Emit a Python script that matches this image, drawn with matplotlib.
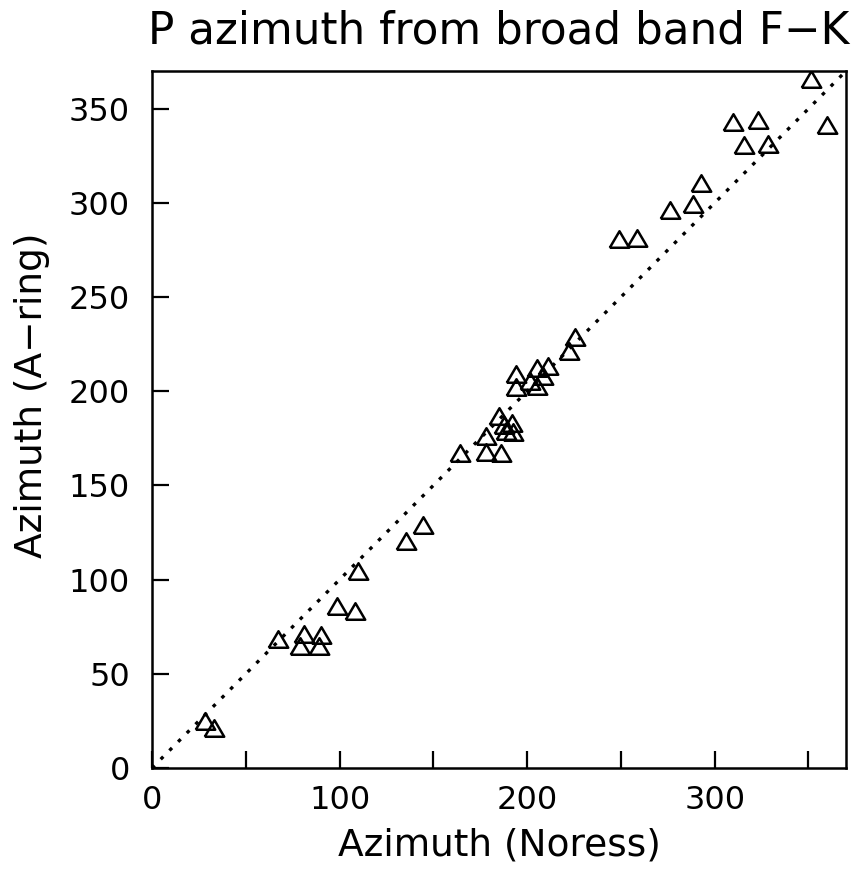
import matplotlib
matplotlib.use("Agg")
import matplotlib.pyplot as plt
import numpy as np

# azimuths
noress = [28.0, 33.2, 67.0, 81.2, 78.9, 90.1, 88.8, 98.8, 108.4, 109.7,
          135.6, 144.5, 164.2, 178.1, 178.0, 186.3, 185.0, 192.1, 187.6, 188.5,
          192.6, 194.1, 193.9, 205.5, 205.2, 208.7, 211.3, 201.6, 225.3, 222.3,
          292.5, 288.5, 276.1, 249.1, 258.7, 351.3, 359.7, 309.9, 323.2, 315.4,
          328.6]
aring = [24.9, 21.3, 68.3, 70.9, 64.6, 70.8, 64.6, 86.2, 83.3, 104.8,
         120.5, 129.2, 167.0, 176.0, 168.0, 167.3, 187.0, 183.3, 182.0, 179.0,
         178.5, 209.0, 202.2, 202.7, 212.5, 208.0, 213.4, 205.3, 228.7, 221.6,
         310.5, 299.4, 296.1, 280.7, 281.6, 365.5, 341.5, 342.8, 344.2, 330.7,
         331.4]
diag = [0, 370]

x_ticks = [0, 100, 200, 300]
x_minor = [50, 150, 250, 350]
y_ticks = [0, 50, 100, 150, 200, 250, 300, 350]

plt.rcParams['font.family'] = ['DejaVu Sans']

fig = plt.figure(figsize=(8.59, 8.84), dpi=100)
ax = fig.add_axes([152/859, 1-768/884, 694/859, 697/884])

tri = [(-1, -0.85), (1, -0.85), (0, 0.85), (-1, -0.85)]
ax.plot(diag, diag, color='black', lw=2.4, linestyle=(0, (1.1, 2.6)), dash_capstyle='butt')
ax.plot(noress, aring, linestyle='none', marker=tri, ms=14, mfc='none', mec='black', mew=1.8)

ax.set_xlim(0, 370)
ax.set_ylim(0, 370)
ax.set_xticks(x_ticks)
ax.set_xticks(x_minor, minor=True)
ax.set_yticks(y_ticks)
ax.tick_params(axis='both', which='both', direction='in', length=12, width=1.6,
               top=False, right=False, labelsize=23)
ax.tick_params(axis='x', which='major', pad=12)
ax.tick_params(axis='y', which='major', pad=16)
for s in ax.spines.values():
    s.set_linewidth(1.8)

ax.set_xlabel('Azimuth (Noress)', fontsize=27)
ax.set_ylabel('Azimuth (A\u2212ring)', fontsize=27)
ax.xaxis.set_label_coords(0.5, -0.086)
ax.yaxis.set_label_coords(-0.147, 0.535)
ax.set_title('P azimuth from broad band F\u2212K', fontsize=31.5, pad=20)

fig.savefig('out.png', dpi=100)
